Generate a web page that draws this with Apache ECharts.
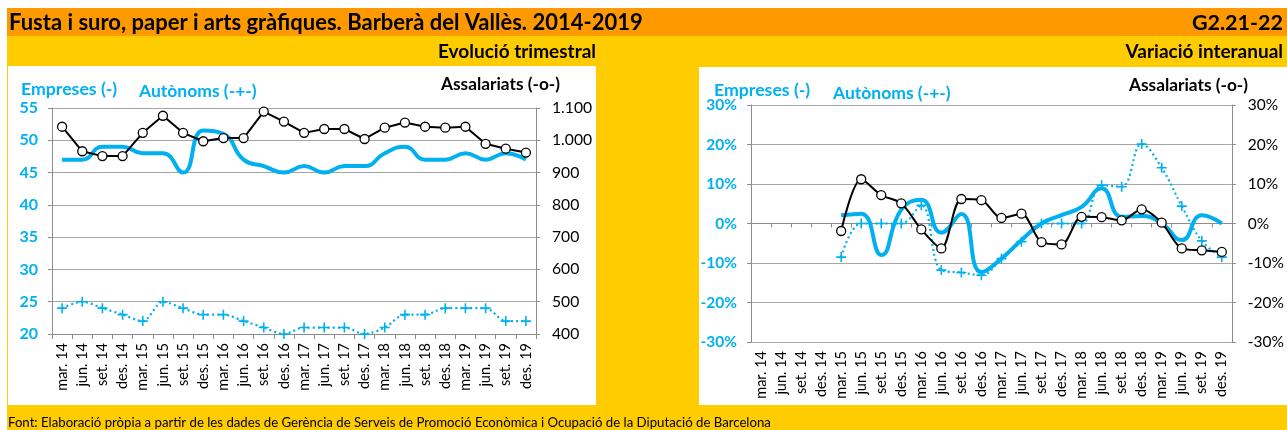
<!DOCTYPE html>
<html><head><meta charset="utf-8">
<script src="https://cdn.jsdelivr.net/npm/echarts@6/dist/echarts.min.js"></script>
<style>html,body{margin:0;padding:0;background:#fff}#c{width:1287px;height:430px}</style>
</head><body><div id="c"></div>
<script>
// ---- data ----
const categories = ['mar. 14','jun. 14','set. 14','des. 14','mar. 15','jun. 15','set. 15','des. 15',
  'mar. 16','jun. 16','set. 16','des. 16','mar. 17','jun. 17','set. 17','des. 17',
  'mar. 18','jun. 18','set. 18','des. 18','mar. 19','jun. 19','set. 19','des. 19'];
// Evolució trimestral
const empresesTrim = [47, 47, 49, 49, 48, 48, 45, 51.5, 51, 47, 46, 45, 46, 45, 46, 46, 48, 49, 47, 47, 48, 47, 48, 47];
const autonomsTrim = [24, 25, 24, 23, 22, 25, 24, 23, 23, 22, 21, 20, 21, 21, 21, 20, 21, 23, 23, 24, 24, 24, 22, 22];
const assalariatsTrim = [1042, 966, 951, 951, 1023, 1076, 1023, 997, 1007, 1007, 1089, 1058, 1023, 1035, 1035, 1004, 1039, 1055, 1042, 1039, 1042, 989, 974, 962];
// Variació interanual (%)
const empresesVar = [null, null, null, null, 2.1, 2.5, -8.0, 3.5, 6.0, -2.3, 2.4, -12.3, -8.9, -4.2, 0, 2.1, 4.2, 8.9, 1.7, 1.9, 0, -4.2, 2.1, 0];
const autonomsVar = [null, null, null, null, -8.5, 0, 0, 0, 4.6, -11.8, -12.4, -13.1, -8.9, -4.6, 0, 0, 0, 9.7, 9.3, 20.1, 14.1, 4.4, -4.4, -8.5];
const assalariatsVar = [null, null, null, null, -1.9, 11.2, 7.2, 5.1, -1.5, -6.3, 6.2, 5.9, 1.4, 2.5, -4.7, -5.3, 1.7, 1.6, 0.8, 3.6, 0.2, -6.3, -6.8, -7.2];
// axis ranges
const leftAxisRange = [20, 55, 5];
const rightAxisRange = [400, 1100, 100];
const varAxisRange = [-30, 30, 10];

// ---- styling ----
const FONT = 'Lato';
const BLUE = '#00B0F0';
const GRID = '#A6A6A6';
const AXIS = '#8C8C8C';
const PLUS = 'path://M4.2,0 L5.8,0 L5.8,4.2 L10,4.2 L10,5.8 L5.8,5.8 L5.8,10 L4.2,10 L4.2,5.8 L0,5.8 L0,4.2 L4.2,4.2 Z';

const thousands = v => String(v).replace(/\B(?=(\d{3})+(?!\d))/g, '.');

function txt(x, y, text, opt) {
  return {
    type: 'text', x: x, y: y, z: 100,
    style: Object.assign({ text: text, fontFamily: FONT, fontSize: 15, fontWeight: 'bold', fill: '#000',
      textAlign: 'left', textVerticalAlign: 'middle' }, opt || {})
  };
}

const catAxisBase = {
  type: 'category', data: categories, boundaryGap: true,
  axisLine: { show: true, lineStyle: { color: AXIS, width: 1 } },
  axisTick: { show: true, interval: 0, length: 5, lineStyle: { color: AXIS } },
  axisLabel: { interval: 0, rotate: 90, fontFamily: FONT, fontSize: 14.5, color: '#000', margin: 9 },
  splitLine: { show: false }
};

const chart = echarts.init(document.getElementById('c'), null, { renderer: 'canvas' });
chart.setOption({
  animation: false,
  backgroundColor: '#fff',
  graphic: [
    { type: 'rect', z: -100, shape: { x: 7, y: 8, width: 1280, height: 28 }, style: { fill: '#FF9900' } },
    { type: 'rect', z: -100, shape: { x: 7, y: 36, width: 1280, height: 394 }, style: { fill: '#FFCC00' } },
    { type: 'rect', z: -90, shape: { x: 8, y: 66, width: 588, height: 339 }, style: { fill: '#fff' } },
    { type: 'rect', z: -90, shape: { x: 699, y: 67, width: 588, height: 338 }, style: { fill: '#fff' } },
    txt(9, 23, 'Fusta i suro, paper i arts gràfiques. Barberà del Vallès. 2014-2019', { fontSize: 22 }),
    txt(1283, 23, 'G2.21-22', { fontSize: 21.5, textAlign: 'right' }),
    txt(596, 52, 'Evolució trimestral', { fontSize: 19, textAlign: 'right' }),
    txt(1283, 52, 'Variació interanual', { fontSize: 19, textAlign: 'right' }),
    txt(21, 89, 'Empreses (-)', { fontSize: 17.7, fill: BLUE }),
    txt(139, 91, 'Autònoms (-+-)', { fontSize: 17.5, fill: BLUE }),
    txt(560, 84, 'Assalariats (-o-)', { fontSize: 17.3, textAlign: 'right' }),
    txt(714, 90, 'Empreses (-)', { fontSize: 17.7, fill: BLUE }),
    txt(833, 93, 'Autònoms (-+-)', { fontSize: 17.5, fill: BLUE }),
    txt(1248, 85, 'Assalariats (-o-)', { fontSize: 17.3, textAlign: 'right' }),
    txt(8, 423, 'Font: Elaboració pròpia a partir de les dades de Gerència de Serveis de Promoció Econòmica i Ocupació de la Diputació de Barcelona', { fontSize: 13.2, fontWeight: 'normal' })
  ],
  grid: [
    { left: 52, right: 1287 - 536, top: 108, bottom: 430 - 334, containLabel: false },
    { left: 751, right: 1287 - 1236, top: 105, bottom: 430 - 342, containLabel: false }
  ],
  xAxis: [
    Object.assign({}, catAxisBase, { gridIndex: 0, position: 'bottom' }),
    Object.assign({}, catAxisBase, { gridIndex: 1, position: 'bottom',
      axisLine: { show: false, onZero: false }, axisTick: { show: false } }),
    Object.assign({}, catAxisBase, { gridIndex: 1, position: 'bottom',
      axisLine: { show: true, onZero: true, lineStyle: { color: AXIS } },
      axisTick: { show: true, interval: 0, length: 4, lineStyle: { color: AXIS } },
      axisLabel: { show: false } })
  ],
  yAxis: [
    { type: 'value', gridIndex: 0, position: 'left', min: leftAxisRange[0], max: leftAxisRange[1], interval: leftAxisRange[2],
      axisLine: { show: true, lineStyle: { color: AXIS } },
      axisTick: { show: true, length: 4, lineStyle: { color: AXIS } },
      axisLabel: { fontFamily: FONT, fontSize: 16, fontWeight: 'bold', color: BLUE, margin: 14 },
      splitLine: { show: true, lineStyle: { color: GRID, width: 1 } } },
    { type: 'value', gridIndex: 0, position: 'right', min: rightAxisRange[0], max: rightAxisRange[1], interval: rightAxisRange[2],
      axisLine: { show: true, lineStyle: { color: AXIS } },
      axisTick: { show: true, length: 4, lineStyle: { color: AXIS } },
      axisLabel: { fontFamily: FONT, fontSize: 15.7, color: '#000', margin: 16, formatter: thousands },
      splitLine: { show: false } },
    { type: 'value', gridIndex: 1, position: 'left', min: varAxisRange[0], max: varAxisRange[1], interval: varAxisRange[2],
      axisLine: { show: true, onZero: false, lineStyle: { color: AXIS } },
      axisTick: { show: true, length: 4, lineStyle: { color: AXIS } },
      axisLabel: { fontFamily: FONT, fontSize: 15.5, fontWeight: 'bold', color: BLUE, margin: 14, formatter: '{value}%' },
      splitLine: { show: true, lineStyle: { color: GRID, width: 1 } } },
    { type: 'value', gridIndex: 1, position: 'right', min: varAxisRange[0], max: varAxisRange[1], interval: varAxisRange[2],
      axisLine: { show: true, onZero: false, lineStyle: { color: AXIS } },
      axisTick: { show: true, length: 4, lineStyle: { color: AXIS } },
      axisLabel: { fontFamily: FONT, fontSize: 15.5, color: '#000', margin: 16, formatter: '{value}%' },
      splitLine: { show: false } }
  ],
  series: [
    { name: 'Empreses', type: 'line', xAxisIndex: 0, yAxisIndex: 0, data: empresesTrim, smooth: 0.5,
      symbol: 'none', lineStyle: { color: BLUE, width: 4 }, itemStyle: { color: BLUE }, z: 3 },
    { name: 'Autònoms', type: 'line', xAxisIndex: 0, yAxisIndex: 0, data: autonomsTrim, smooth: 0.3,
      symbol: PLUS, symbolSize: 10, lineStyle: { color: BLUE, width: 2.2, type: [2, 3] }, itemStyle: { color: BLUE }, z: 4 },
    { name: 'Assalariats', type: 'line', xAxisIndex: 0, yAxisIndex: 1, data: assalariatsTrim, smooth: false,
      symbol: 'circle', symbolSize: 9, showAllSymbol: true,
      lineStyle: { color: '#000', width: 2 }, itemStyle: { color: '#fff', borderColor: '#000', borderWidth: 1.3 }, z: 5 },

    { name: 'Autònoms var', type: 'line', xAxisIndex: 1, yAxisIndex: 2, data: autonomsVar, smooth: 0.4,
      symbol: PLUS, symbolSize: 10, lineStyle: { color: BLUE, width: 2.2, type: [2, 3] }, itemStyle: { color: BLUE }, z: 3 },
    { name: 'Empreses var', type: 'line', xAxisIndex: 1, yAxisIndex: 2, data: empresesVar, smooth: 0.5,
      symbol: 'none', lineStyle: { color: BLUE, width: 4 }, itemStyle: { color: BLUE }, z: 4 },
    { name: 'Assalariats var', type: 'line', xAxisIndex: 1, yAxisIndex: 3, data: assalariatsVar, smooth: 0.3,
      symbol: 'circle', symbolSize: 9, showAllSymbol: true,
      lineStyle: { color: '#000', width: 2 }, itemStyle: { color: '#fff', borderColor: '#000', borderWidth: 1.3 }, z: 5 }
  ]
});
</script>
</body></html>
